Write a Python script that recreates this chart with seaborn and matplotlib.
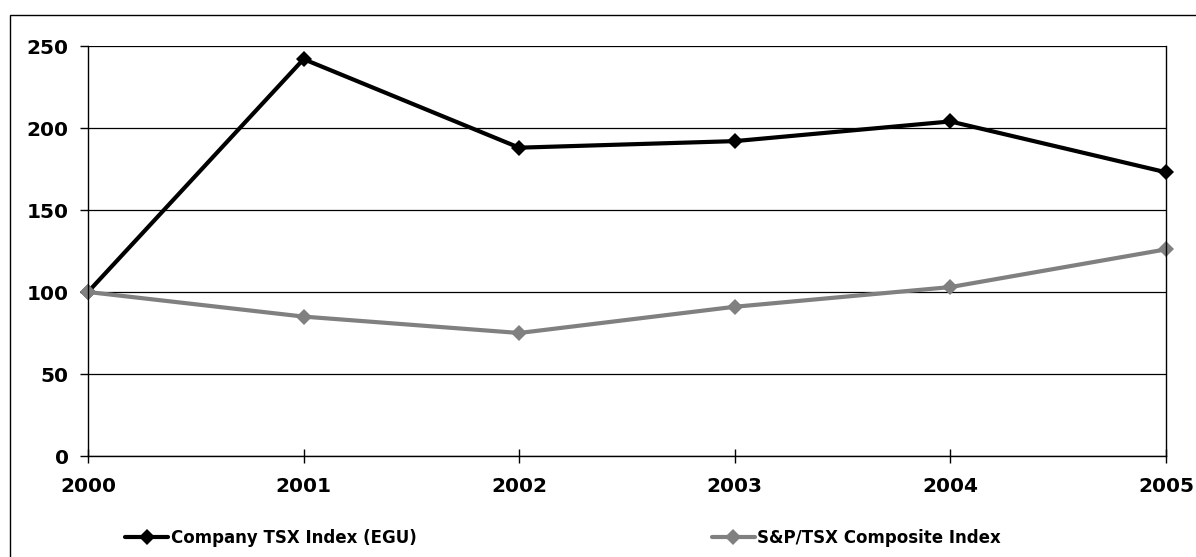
import pandas as pd
import matplotlib.pyplot as plt
import seaborn as sns
from matplotlib.patches import Rectangle

years = [2000, 2001, 2002, 2003, 2004, 2005]
company_tsx = [100, 242, 188, 192, 204, 173]
sp_tsx = [100, 85, 75, 91, 103, 126]
series_names = ["Company TSX Index (EGU)", "S&P/TSX Composite Index"]

df = pd.DataFrame({
    "year": years * 2,
    "value": company_tsx + sp_tsx,
    "series": [series_names[0]] * len(years) + [series_names[1]] * len(years),
})

sns.set_style("white")
plt.rcParams["font.family"] = ["DejaVu Sans"]
plt.rcParams["font.weight"] = "bold"
plt.rcParams["text.color"] = "black"
plt.rcParams["xtick.color"] = "black"
plt.rcParams["ytick.color"] = "black"

fig = plt.figure(figsize=(11.96, 5.57), dpi=100, facecolor="white")
ax = fig.add_axes([88 / 1196, 1 - 456 / 557, (1166 - 88) / 1196, (456 - 46) / 557])

palette = {series_names[0]: "black", series_names[1]: "#808080"}
sns.lineplot(data=df, x="year", y="value", hue="series", palette=palette,
             marker="D", markersize=8.5, markeredgewidth=0, linewidth=3,
             ax=ax, legend=False, clip_on=False)

ax.set_xlim(2000, 2005)
ax.set_ylim(0, 250)
ax.set_yticks([0, 50, 100, 150, 200, 250])
ax.set_xticks(years)
ax.set_xticklabels([str(y) for y in years])
ax.yaxis.grid(True, color="black", linewidth=0.9)
ax.set_axisbelow(True)
ax.set_xlabel("")
ax.set_ylabel("")
for s in ax.spines.values():
    s.set_color("black")
    s.set_linewidth(1.0)
ax.spines["top"].set_visible(False)
ax.tick_params(axis="y", direction="out", length=6, width=1,
               labelsize=14.5, pad=8, left=True)
ax.tick_params(axis="x", direction="inout", length=10, width=1,
               labelsize=14.5, pad=10, bottom=True)
for lbl in ax.get_xticklabels() + ax.get_yticklabels():
    lbl.set_fontweight("bold")
    lbl.set_color("black")

# legend
handles = [plt.Line2D([], [], color=palette[n], marker="D", markersize=8.5,
                      markeredgewidth=0, linewidth=3) for n in series_names]
fig.legend(handles, series_names, loc="center left", bbox_to_anchor=(125 / 1196, 1 - 538 / 557),
           ncol=2, frameon=False, columnspacing=17.7, handlelength=2.6, handletextpad=0.15,
           borderpad=0, borderaxespad=0, prop={"weight": "bold", "size": 12})

# outer chart border
fig.add_artist(Rectangle((10 / 1196, -0.01), 1.2, 1 - 15 / 557 + 0.01,
                         transform=fig.transFigure, fill=False,
                         edgecolor="black", linewidth=1))

fig.savefig("out.png", dpi=100, facecolor="white")
